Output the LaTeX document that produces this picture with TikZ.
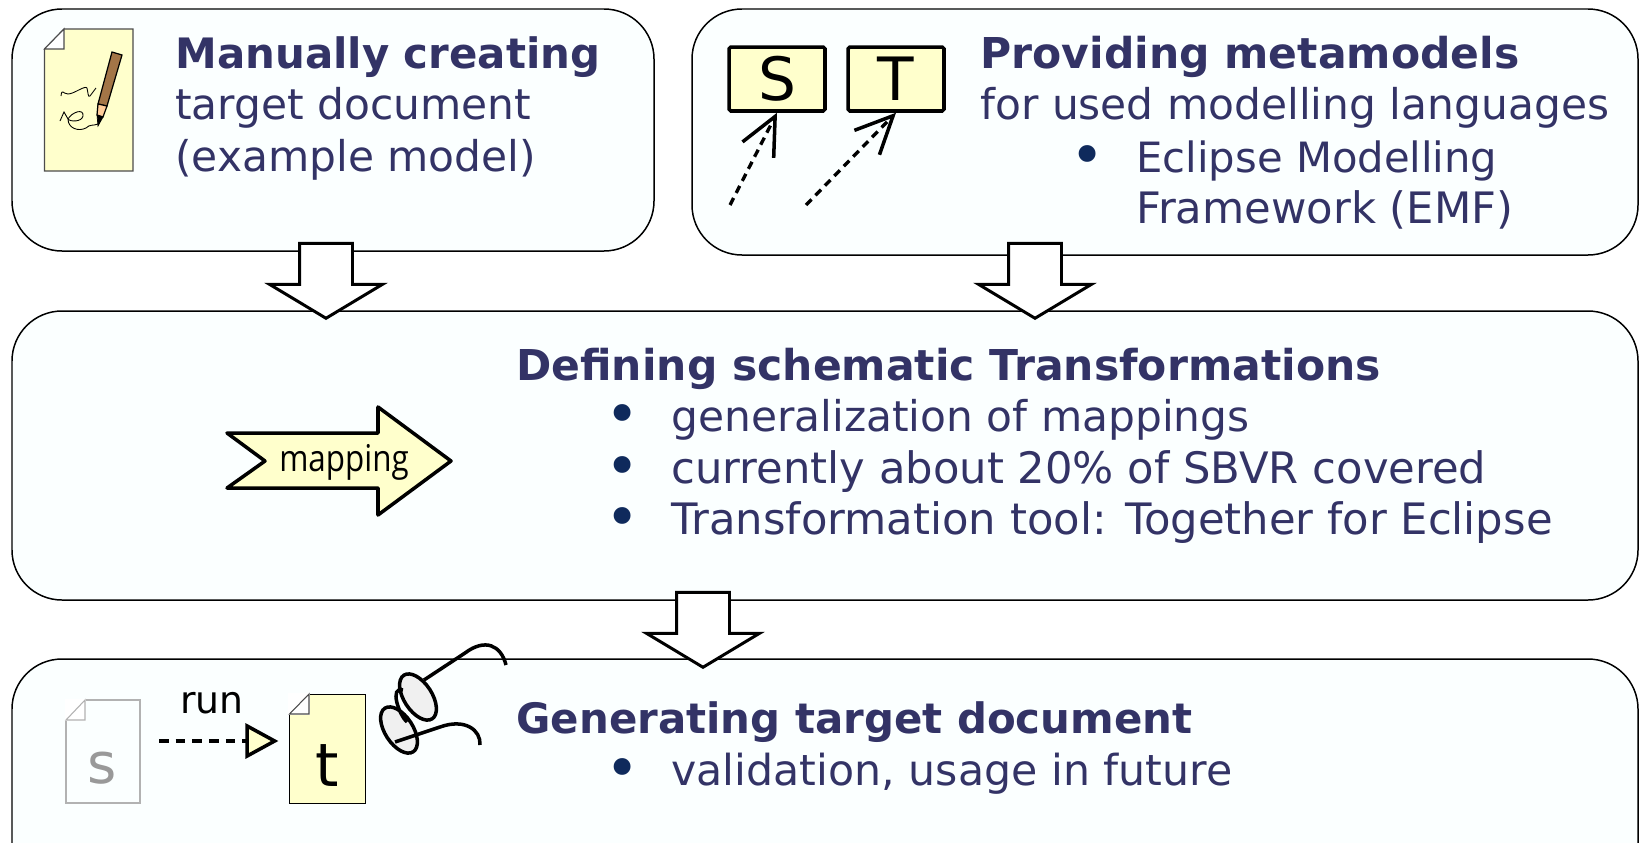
\documentclass[tikz,border=0pt]{standalone}
\usepackage{fontspec}
\usepackage{xcolor}
\setmainfont{DejaVu Sans}
\usetikzlibrary{arrows.meta}
\usetikzlibrary{shapes.arrows}
\definecolor{textblue}{HTML}{333366}
\definecolor{dotblue}{HTML}{0F2A5C}
\definecolor{paleyellow}{HTML}{FFFFCC}
\definecolor{paleblue}{HTML}{FBFFFF}
\tikzset{
    stagebox/.style={black, line width=0.85pt, fill=paleblue, rounded corners=1cm},
    headtext/.style={anchor=base west, inner sep=0, text=textblue, font=\fontsize{#1}{25}\selectfont\bfseries},
    headtext/.default=24.2,
    bodytext/.style={anchor=base west, inner sep=0, text=textblue, font=\fontsize{#1}{25}\selectfont},
    bodytext/.default=24.1,
    dotmark/.style={inner sep=0, text=dotblue, scale=1.32, font=\fontsize{25}{25}\selectfont},
    flowarrow/.style={draw=black, line width=1.7pt, fill=white, single arrow, anchor=tip, rotate=-90,
        minimum height=1.5cm, single arrow head extend=0.6cm, inner xsep=0, inner ysep=0.5cm,
        single arrow tip angle=118},
    modelbox/.style={draw=black, line width=2pt, fill=paleyellow, rounded corners=1pt, inner sep=0,
        minimum width=1.92cm, minimum height=1.28cm, font=\fontsize{34}{34}\selectfont},
    docbox/.style={draw=#1, line width=0.7pt, inner sep=0},
    foldline/.style={draw=#1, line width=0.6pt, fill=white},
    typearrow/.style={dashed, dash pattern=on 4.5pt off 3.2pt, line width=1.9pt, line cap=butt,
        -{Straight Barb[length=0.75cm, width=0.7cm, line width=2pt]}},
    eyewear/.style={black, line width=2pt},
}
\begin{document}
\begin{tikzpicture}[x=0.02cm, y=-0.02cm]
            \useasboundingbox (0,0) rectangle (1639,842);
            \clip (0,0) rectangle (1639,842);
            \draw[stagebox] (12,9) rectangle (654,251);
            \draw[stagebox] (692,9) rectangle (1638,255);
            \draw[stagebox] (12,311) rectangle (1638,600);
            \draw[stagebox] (12,659) rectangle (1638,900);
            \node[headtext=23.85] (A) at (175,68){Manually creating};
            \node[bodytext] (B) at (175,119){target document};
            \node[bodytext] (C) at (175,171){(example model)};
            \node[headtext] (D) at (980,68){Providing metamodels};
            \node[bodytext] (E) at (980,119){for used modelling languages};
            \node[dotmark] (F) at (1088,161){•};
            \node[bodytext=23.75] (G) at (1136,172){Eclipse Modelling};
            \node[bodytext=24.65] (H) at (1136,223){Framework (EMF)};
            \node[headtext] (I) at (516,380){Defining schematic Transformations};
            \node[dotmark] (J) at (623,420){•};
            \node[bodytext] (K) at (671,431){generalization of mappings};
            \node[dotmark] (L) at (623,472){•};
            \node[bodytext=24.65] (M) at (671,483){currently about 20\% of SBVR covered};
            \node[dotmark] (N) at (623,523){•};
            \node[bodytext=24.65] (O) at (671,534){Transformation tool: Together for Eclipse};
            \node[headtext=23.85] (P) at (516,733){Generating target document};
            \node[dotmark] (Q) at (623,774){•};
            \node[bodytext=24.3] (R) at (671,785){validation, usage in future};
            % paper with pencil
            \draw[black!70, line width=0.7pt, fill=paleyellow] (64,29) -- (133,29) -- (133,171) -- (44.5,171) -- (44.5,49) -- cycle;
            \draw[foldline=black!70] (44.5,49) -- (64,29) -- (64,49) -- cycle;
            \draw[black, line width=0.5pt] (61,96) .. controls (62,88) and (63,94) .. (68,94) .. controls (74,94) and (85,85) .. (87,88) .. controls (88,92) and (88,98) .. (90,96) -- (96,88);
            \draw[black, line width=0.5pt] (60,121) -- (64,112) -- (68,119) .. controls (72,112) and (84,108) .. (83,116) .. controls (82,122) and (70,122) .. (68,119) .. controls (68,128) and (78,132) .. (86,128) .. controls (90,124) and (93,126) .. (98,124);
            \draw[black, line width=0.7pt, fill=brown!80!black!90] (112,52) -- (122,55) -- (107,106) -- (98,104) -- cycle;
            \draw[black, line width=0.7pt, fill=orange!40!white] (98,104) -- (107,106) -- (103,117) -- (97,115) -- cycle;
            \draw[black, fill=black] (97,115) -- (103,117) -- (98,126) -- cycle;
            % metamodels
            \node[modelbox] (S) at (777,79){S};
            \node[modelbox] (T) at (896,79){T};
            \coordinate (Sfrom) at (730,205);
            \coordinate (Tfrom) at (806,205);
            \draw[typearrow] (Sfrom) -- (S.south);
            \draw[typearrow] (Tfrom) -- (T.south);
            % mapping
            \draw[black, line width=2pt, line join=round, fill=paleyellow] (227,433) -- (378,433) -- (378,407) -- (451,461) -- (378,515) -- (378,488) -- (227,488) -- (265,461) -- cycle;
            \node[inner sep=0] (map) at (344,462){\fontspec[FakeStretch=0.85]{Open Sans}\fontsize{21}{21}\selectfont mapping};
            % run
            \node[docbox=black!30, minimum width=1.48cm, minimum height=2.06cm] (docS) at (103,751.5){};
            \draw[white, fill=white, line width=1pt] (65.5,699.5) rectangle (85,720);
            \draw[foldline=black!30] (66,720) -- (85,700) -- (85,720) -- cycle;
            \node[inner sep=0, text=black!40, font=\fontsize{32}{32}\selectfont] (s) at (102,768){s};
            \node[docbox=black, fill=paleyellow, minimum width=1.52cm, minimum height=2.18cm] (docT) at (327.5,749){};
            \draw[white, fill=white, line width=1pt] (289,693.5) rectangle (309,714);
            \draw[foldline=black!70] (289.5,714) -- (309,694) -- (309,714) -- cycle;
            \node[inner sep=0, font=\fontsize{34}{34}\selectfont] (t) at (327,766){t};
            \node[inner sep=0, font=\fontsize{21.5}{21.5}\selectfont] (run) at (212,703){run};
            \coordinate (runfrom) at (159,741);
            \draw[dashed, dash pattern=on 5.5pt off 4pt, line width=1.9pt, shorten >=0.21cm,
                -{Triangle[open, length=0.66cm, width=0.7cm, line width=2pt, fill=paleyellow]}] (runfrom) -- (runfrom -| docT.west);
            % glasses
            \draw[eyewear, fill=black!6] (418,697) ellipse [x radius=0.52cm, y radius=0.28cm, rotate=-57];
            \draw[eyewear, fill=black!6] (399,730) ellipse [x radius=0.52cm, y radius=0.28cm, rotate=-57];
            \draw[eyewear] (403,690) .. controls (389,686) and (399,715) .. (407,722);
            \draw[eyewear] (424,680) -- (465,653) .. controls (485,638) and (501,645) .. (506,665);
            \draw[eyewear] (395,742) -- (440,727) .. controls (465,718) and (481,730) .. (480,745);
            % flow arrows
            \node[flowarrow] (flowA) at (326,320){};
            \node[flowarrow] (flowB) at (1035,320){};
            \node[flowarrow] (flowC) at (703,669){};
\end{tikzpicture}
\end{document}
